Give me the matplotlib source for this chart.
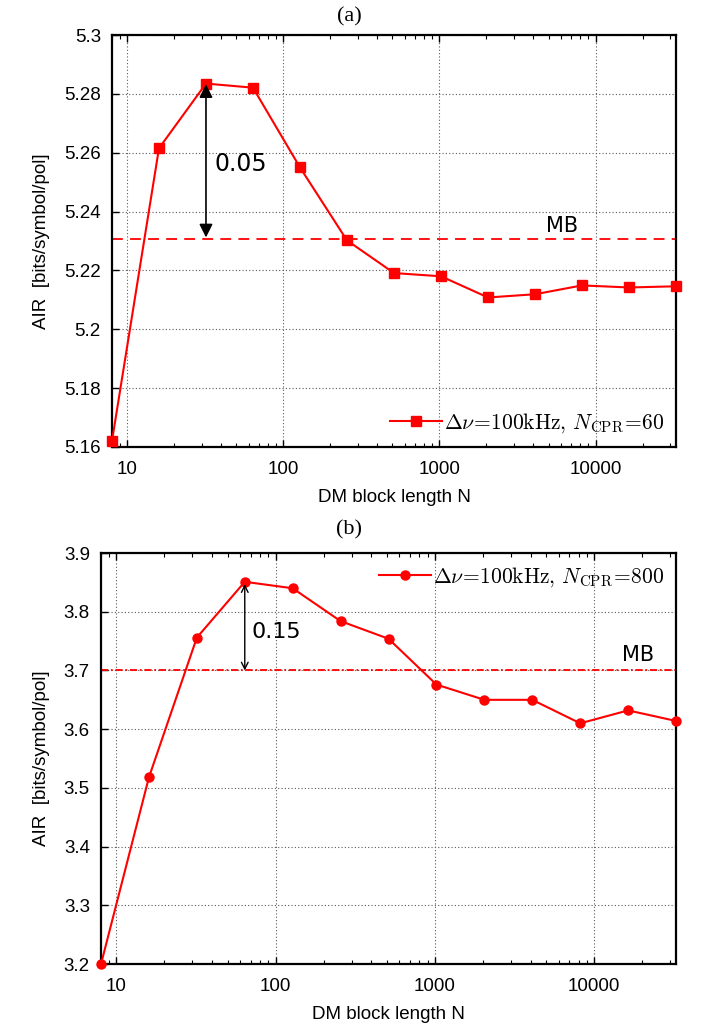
import matplotlib
matplotlib.use('Agg')
import matplotlib.pyplot as plt
from matplotlib.ticker import FixedLocator, FixedFormatter, LogLocator, NullFormatter

plt.rcParams['font.family'] = ['Liberation Sans', 'DejaVu Sans']
plt.rcParams['mathtext.fontset'] = 'cm'

# block lengths N
n_vals = [8, 16, 32, 64, 128, 256, 512, 1024, 2048, 4096, 8192, 16384, 32768]

# (a) AIR, dnu=100kHz, N_CPR=60
air_a = [5.162, 5.2615, 5.2835, 5.2821, 5.2550, 5.2302, 5.2191, 5.2180,
         5.2108, 5.2119, 5.2149, 5.2142, 5.2146]
mb_a = 5.2307
yticks_a = [5.16, 5.18, 5.2, 5.22, 5.24, 5.26, 5.28, 5.3]
ylabels_a = ['5.16', '5.18', '5.2', '5.22', '5.24', '5.26', '5.28', '5.3']

# (b) AIR, dnu=100kHz, N_CPR=800
air_b = [3.20, 3.518, 3.756, 3.851, 3.840, 3.784, 3.754, 3.676,
         3.650, 3.650, 3.610, 3.632, 3.614]
mb_b = 3.70
yticks_b = [3.2, 3.3, 3.4, 3.5, 3.6, 3.7, 3.8, 3.9]
ylabels_b = ['3.2', '3.3', '3.4', '3.5', '3.6', '3.7', '3.8', '3.9']

xticks = [10, 100, 1000, 10000]
xlabels = ['10', '100', '1000', '10000']

fig = plt.figure(figsize=(7.02, 10.27), dpi=100)
ax1 = fig.add_axes([0.1595, 0.5648, 0.8035, 0.4011])
ax2 = fig.add_axes([0.1439, 0.0613, 0.8191, 0.4002])


def style_axis(ax, yticks, ylabels):
    ax.set_xscale('log')
    ax.set_xlim(8, 32768)
    ax.set_ylim(yticks[0], yticks[-1])
    ax.xaxis.set_major_locator(FixedLocator(xticks))
    ax.xaxis.set_major_formatter(FixedFormatter(xlabels))
    ax.xaxis.set_minor_locator(LogLocator(base=10, subs=range(2, 10)))
    ax.xaxis.set_minor_formatter(NullFormatter())
    ax.yaxis.set_major_locator(FixedLocator(yticks))
    ax.yaxis.set_major_formatter(FixedFormatter(ylabels))
    ax.tick_params(which='major', direction='in', top=True, right=False,
                   length=5, width=1, labelsize=13.5, pad=8)
    ax.tick_params(axis='x', which='major', pad=10)
    ax.tick_params(which='minor', direction='in', top=True, length=3, width=0.8)
    ax.grid(True, which='major', linestyle=(0, (1, 2)), color='0.35', linewidth=0.8)
    for s in ax.spines.values():
        s.set_linewidth(1.6)
    ax.set_xlabel('DM block length N', fontsize=13.5, labelpad=8)
    ax.set_ylabel('AIR  [bits/symbol/pol]', fontsize=13.5, labelpad=10)


# panel (a)
style_axis(ax1, yticks_a, ylabels_a)
ax1.plot(n_vals, air_a, color='red', linewidth=1.5, marker='s', markersize=6.5,
         label=r'$\Delta\nu\!=\!100\mathrm{kHz},\,N_{\mathrm{CPR}}\!=\!60$', clip_on=False, zorder=3)
ax1.axhline(mb_a, color='red', linewidth=1.3, linestyle=(0, (6, 4)))
ax1.text(6100, mb_a + 0.0045, 'MB', fontsize=15, family='DejaVu Sans', ha='center', va='center')
ax1.annotate('', xy=(32, air_a[2] - 0.0002), xytext=(32, mb_a + 0.0005),
             arrowprops=dict(arrowstyle='<|-|>', color='black', lw=1.2,
                             mutation_scale=20, shrinkA=0, shrinkB=0))
ax1.text(36.2, 5.2563, '0.05', fontsize=17, family='DejaVu Sans', ha='left', va='center')
ax1.legend(loc='lower right', frameon=False, fontsize=15.5, handlelength=2.4,
           handletextpad=0.1, borderaxespad=0.15)
fig.text(0.497, 0.984, '(a)', fontsize=16, family='Liberation Serif', ha='center', va='center')

# panel (b)
style_axis(ax2, yticks_b, ylabels_b)
ax2.plot(n_vals, air_b, color='red', linewidth=1.5, marker='o', markersize=6.5,
         label=r'$\Delta\nu\!=\!100\mathrm{kHz},\,N_{\mathrm{CPR}}\!=\!800$', clip_on=False, zorder=3)
ax2.axhline(mb_b, color='red', linewidth=1.3, linestyle=(0, (4, 1.5, 1, 1.5)))
ax2.text(19000, mb_b + 0.026, 'MB', fontsize=15, family='DejaVu Sans', ha='center', va='center')
ax2.annotate('', xy=(64, air_b[3] - 0.004), xytext=(64, mb_b),
             arrowprops=dict(arrowstyle='<->', color='black', lw=1.0,
                             mutation_scale=12, shrinkA=0, shrinkB=0))
ax2.text(70.3, 3.766, '0.15', fontsize=16, family='DejaVu Sans', ha='left', va='center')
ax2.legend(loc='upper right', frameon=False, fontsize=15.5, handlelength=2.4,
           handletextpad=0.1, borderaxespad=0.15)
fig.text(0.497, 0.484, '(b)', fontsize=16, family='Liberation Serif', ha='center', va='center')

fig.savefig('out.png', dpi=100)
